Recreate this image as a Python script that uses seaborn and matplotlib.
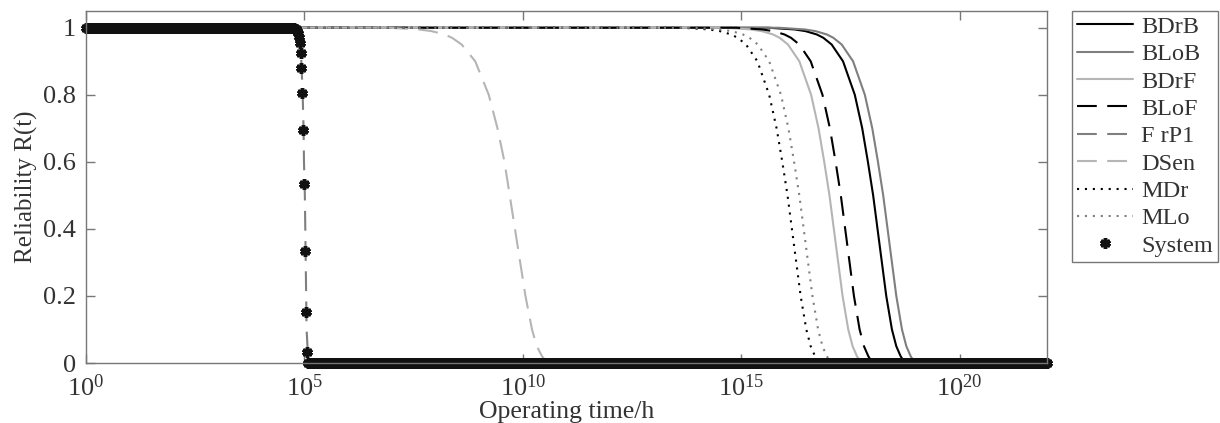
import numpy as np
import matplotlib
matplotlib.use("Agg")
import matplotlib.pyplot as plt
from matplotlib.ticker import NullLocator, FixedLocator
import seaborn as sns

# Reliability levels shared by the component curves
R_levels = [1.0, 1.0, 0.995, 0.99, 0.98, 0.97, 0.95, 0.9, 0.8, 0.7, 0.6, 0.5,
            0.4, 0.3, 0.2, 0.1, 0.05, 0.02, 0.0, 0.0]

# log10(operating time / h) at which each component reaches the level above
u_BDrB = [0, 15.63, 16.22, 16.47, 16.73, 16.88, 17.07, 17.33, 17.60, 17.77, 17.90, 18.02, 18.12, 18.22, 18.32, 18.45, 18.55, 18.65, 18.75, 22]
u_BLoB = [0, 15.86, 16.45, 16.70, 16.96, 17.11, 17.30, 17.56, 17.83, 18.00, 18.13, 18.25, 18.35, 18.45, 18.55, 18.68, 18.78, 18.88, 18.98, 22]
u_BDrF = [0, 14.63, 15.22, 15.47, 15.73, 15.88, 16.07, 16.33, 16.60, 16.77, 16.90, 17.02, 17.12, 17.22, 17.32, 17.45, 17.55, 17.65, 17.75, 22]
u_BLoF = [0, 14.89, 15.48, 15.73, 15.99, 16.14, 16.33, 16.59, 16.86, 17.03, 17.16, 17.28, 17.38, 17.48, 17.58, 17.71, 17.81, 17.91, 18.01, 22]
u_FrP1 = [0, 4.74, 4.81, 4.83, 4.86, 4.88, 4.90, 4.93, 4.96, 4.98, 4.99, 5.01, 5.02, 5.03, 5.04, 5.05, 5.07, 5.08, 5.09, 22]
u_DSen = [0, 6.94, 7.62, 7.91, 8.21, 8.38, 8.60, 8.91, 9.22, 9.42, 9.58, 9.70, 9.82, 9.94, 10.06, 10.21, 10.32, 10.44, 10.56, 22]
u_MDr = [0, 13.67, 14.26, 14.51, 14.77, 14.92, 15.11, 15.37, 15.64, 15.81, 15.94, 16.06, 16.16, 16.26, 16.36, 16.49, 16.59, 16.69, 16.79, 22]
u_MLo = [0, 13.94, 14.53, 14.78, 15.04, 15.19, 15.38, 15.64, 15.91, 16.08, 16.21, 16.33, 16.43, 16.53, 16.63, 16.76, 16.86, 16.96, 17.06, 22]

# System: 1000 markers evenly spaced in log10(t) from 10^0 to 10^22
sys_log_t = np.linspace(0, 22, 1000)
sys_drop = [0.999, 0.998, 0.997, 0.995, 0.991, 0.984, 0.973, 0.955,
            0.925, 0.88, 0.806, 0.696, 0.534, 0.334, 0.152, 0.033]
sys_R = [1.0] * 215 + sys_drop + [0.0] * 769

x_ticks = [1e0, 1e5, 1e10, 1e15, 1e20]
y_ticks = [0, 0.2, 0.4, 0.6, 0.8, 1.0]
y_tick_labels = ["0", "0.2", "0.4", "0.6", "0.8", "1"]

sns.set_style("ticks")
plt.rcParams["font.family"] = ["Liberation Serif", "DejaVu Serif"]
plt.rcParams["mathtext.fontset"] = "custom"
plt.rcParams["mathtext.rm"] = "Liberation Serif"
plt.rcParams["mathtext.it"] = "Liberation Serif:italic"

fig = plt.figure(figsize=(12.2, 4.23), dpi=100)
ax = fig.add_axes([0.0705, 0.1418, 0.7877, 0.8322])

dash = (0, (9.5, 5))
dot = (0, (1, 2.8))
series = [
    ("BDrB", u_BDrB, "#000000", "-"),
    ("BLoB", u_BLoB, "#7f7f7f", "-"),
    ("BDrF", u_BDrF, "#b5b5b5", "-"),
    ("BLoF", u_BLoF, "#000000", dash),
    ("F rP1", u_FrP1, "#7f7f7f", dash),
    ("DSen", u_DSen, "#b5b5b5", dash),
    ("MDr", u_MDr, "#000000", dot),
    ("MLo", u_MLo, "#7f7f7f", dot),
]
for name, u, col, ls in series:
    sns.lineplot(x=10.0 ** np.array(u), y=R_levels, ax=ax, color=col,
                 linestyle=ls, linewidth=1.5, label=name,
                 estimator=None, sort=False)

sns.lineplot(x=10.0 ** sys_log_t, y=sys_R, ax=ax, color="#111111",
             linestyle="none", marker=(6, 2, 0), markersize=7.5,
             markeredgewidth=2.6, markeredgecolor="#111111",
             label="System", estimator=None, sort=False, clip_on=False)

ax.set_xscale("log")
ax.set_xlim(1, 1e22)
ax.set_ylim(0, 1.05)
ax.xaxis.set_major_locator(FixedLocator(x_ticks))
ax.xaxis.set_minor_locator(NullLocator())
ax.set_yticks(y_ticks)
ax.set_yticklabels(y_tick_labels)

for sp in ax.spines.values():
    sp.set_color("#777777")
    sp.set_linewidth(1.0)
ax.tick_params(direction="in", top=True, right=True, length=6.5, width=1,
               color="#777777", labelcolor="#333333", labelsize=19)
ax.tick_params(axis="x", pad=8)
ax.tick_params(axis="y", pad=7)

ax.set_xlabel("Operating time/h", fontsize=18.5, color="#333333", labelpad=0.5)
ax.set_ylabel("Reliability R(t)", fontsize=18, color="#333333", labelpad=4)

leg = ax.legend(loc="upper left", bbox_to_anchor=(1072 / 1220, 1 - 11 / 423),
                bbox_transform=fig.transFigure, frameon=True, fancybox=False,
                edgecolor="#777777", framealpha=1, fontsize=17.5,
                handlelength=2.3, handletextpad=0.35, labelspacing=0.22,
                borderpad=0.2, borderaxespad=0)
leg.get_frame().set_linewidth(1.0)
for t in leg.get_texts():
    t.set_color("#333333")

fig.savefig("out.png", dpi=100)
